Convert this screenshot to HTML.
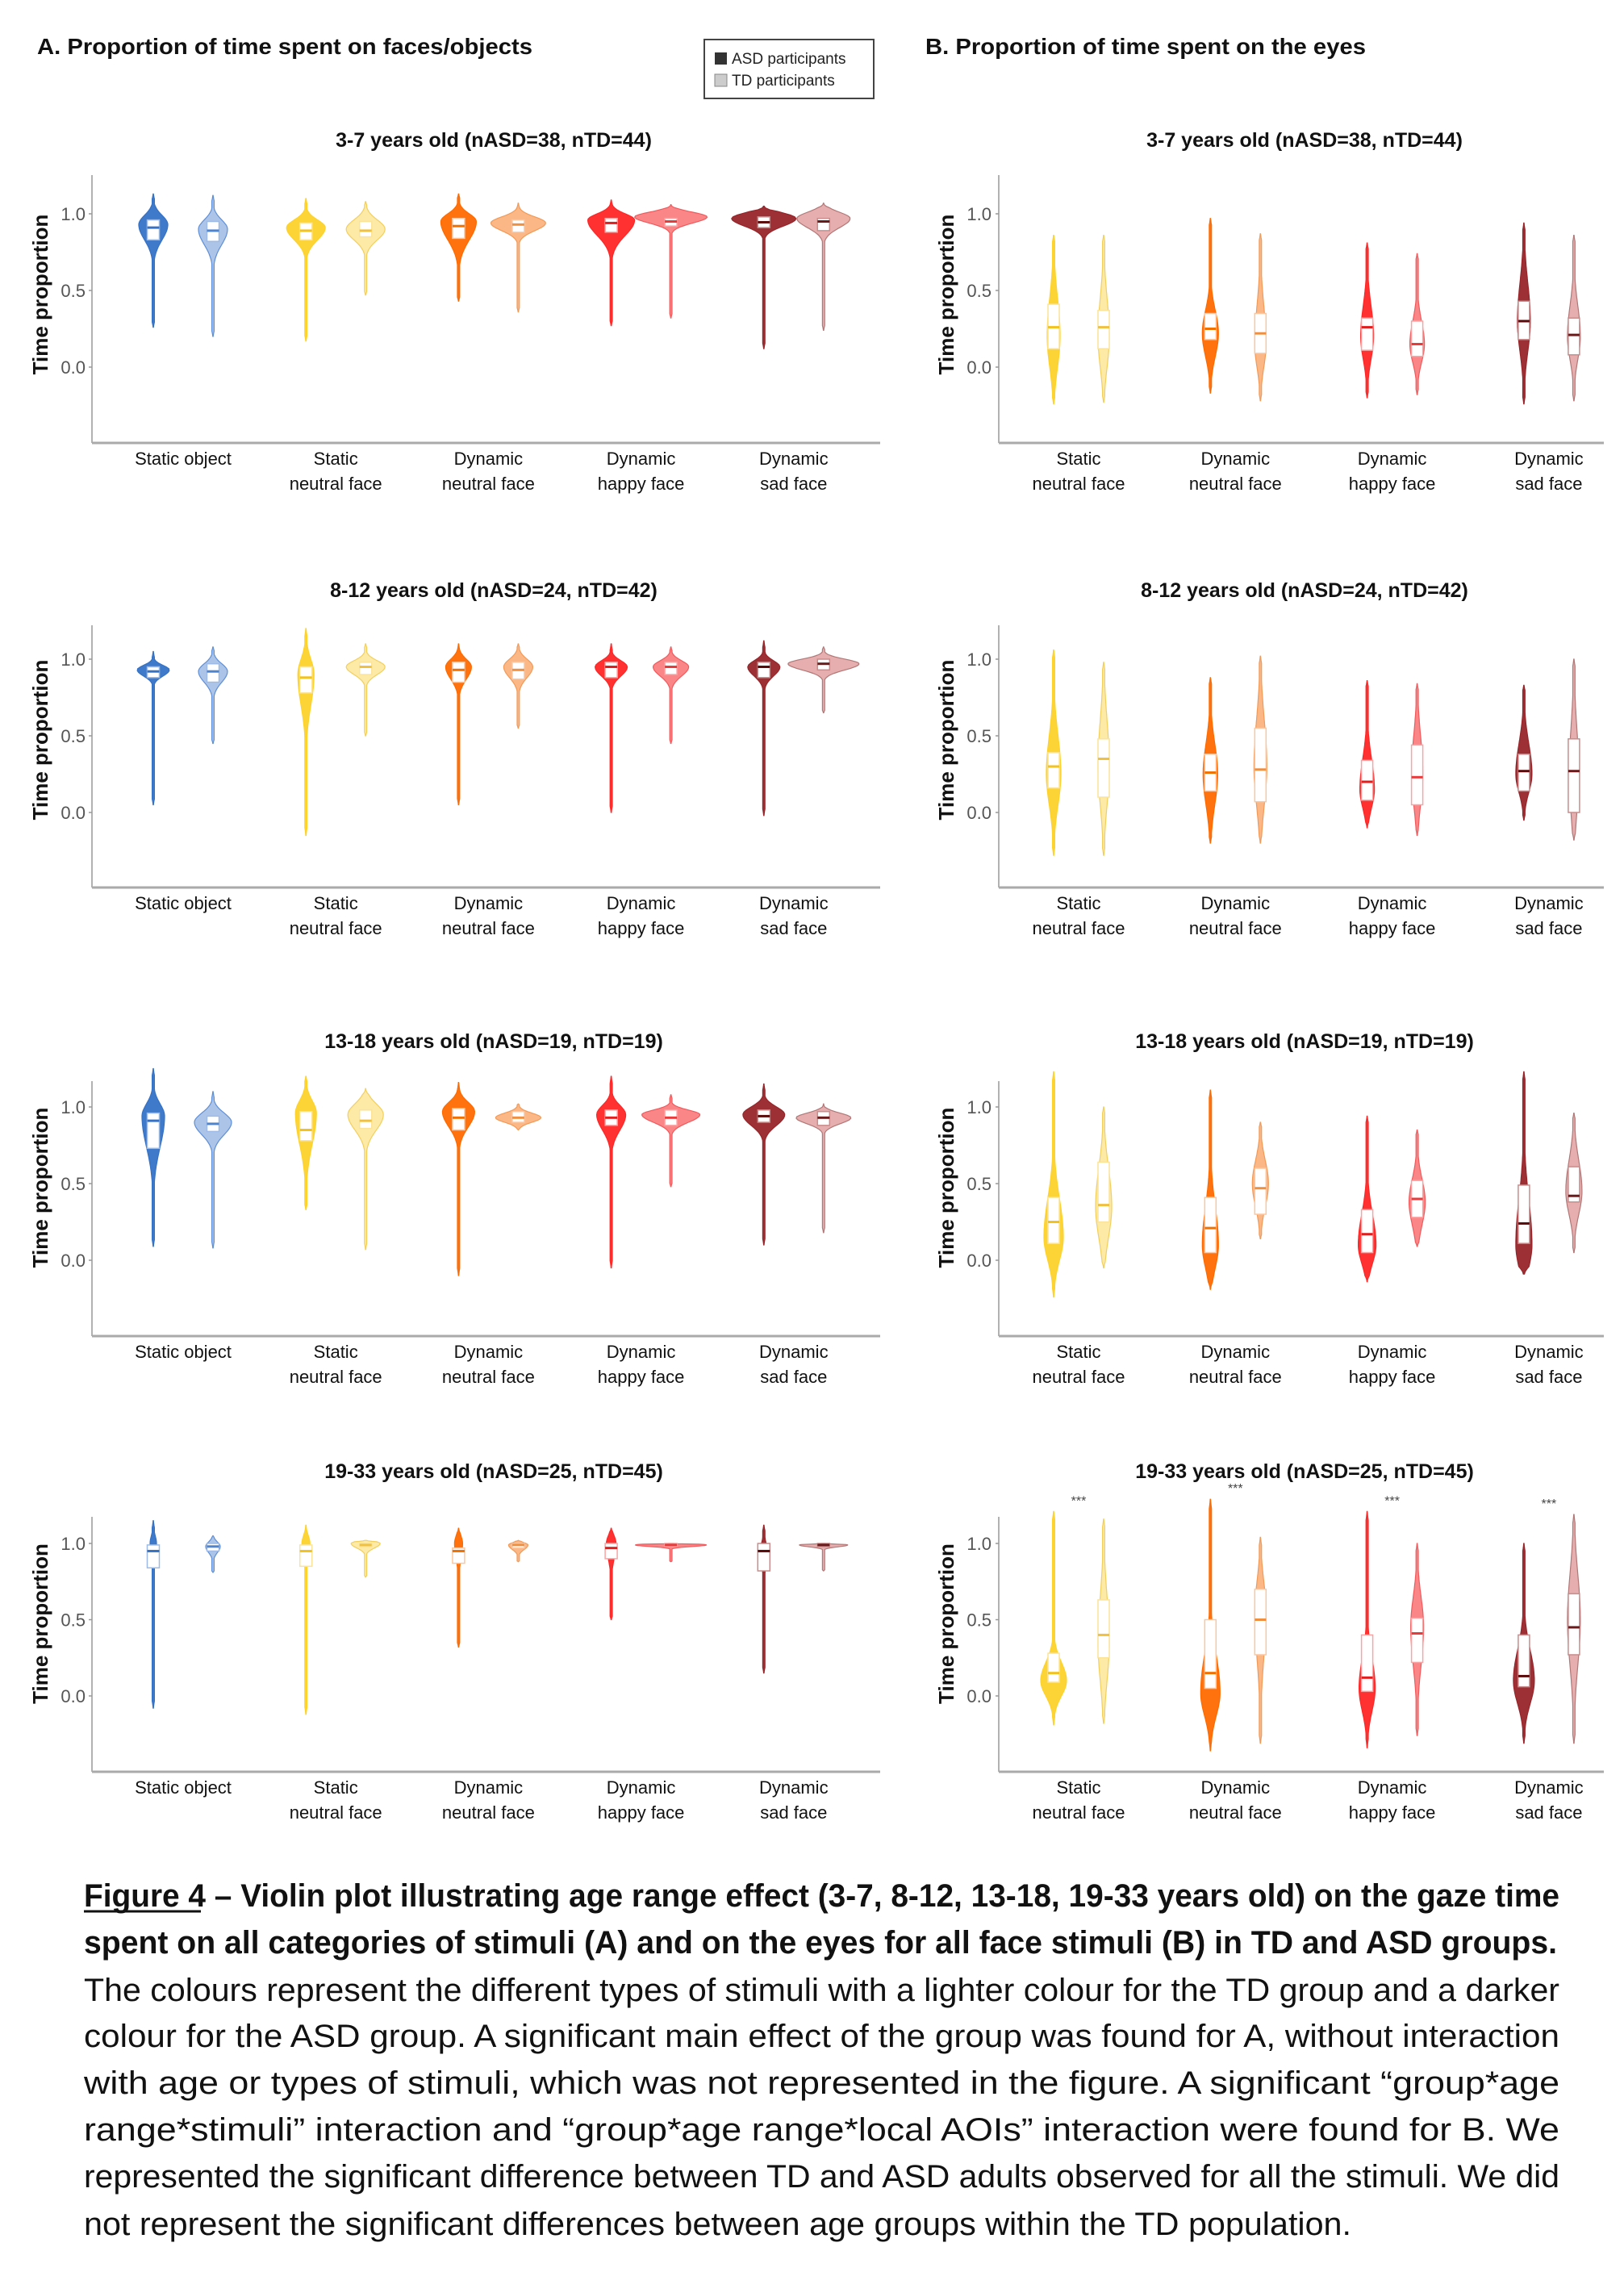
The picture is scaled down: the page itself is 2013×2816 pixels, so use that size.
<!DOCTYPE html>
<html><head><meta charset="utf-8">
<style>
html,body{margin:0;padding:0;background:#fff;}
svg{display:block;font-family:"Liberation Sans",Arial,sans-serif;}
</style></head>
<body>
<svg id="fig" width="2013" height="2816" viewBox="0 0 2013 2816" xmlns="http://www.w3.org/2000/svg">
<rect x="0" y="0" width="2013" height="2816" fill="#fff"/>
<text x="46" y="67" font-size="28" font-weight="bold" fill="#111" textLength="614" lengthAdjust="spacingAndGlyphs">A. Proportion of time spent on faces/objects</text>
<text x="1147" y="67" font-size="28" font-weight="bold" fill="#111" textLength="546" lengthAdjust="spacingAndGlyphs">B. Proportion of time spent on the eyes</text>
<g>
<rect x="873" y="49" width="210" height="73" fill="#fff" stroke="#444" stroke-width="2"/>
<rect x="886" y="65" width="15" height="15" fill="#333"/>
<text x="907" y="79" font-size="19" fill="#222">ASD participants</text>
<rect x="886" y="92" width="15" height="15" fill="#ccc" stroke="#888" stroke-width="1"/>
<text x="907" y="106" font-size="19" fill="#222">TD participants</text>
</g>
<g id="plots"></g>
<g fill="#111" font-size="40">
<text x="104" y="2363" font-weight="bold" textLength="1829" lengthAdjust="spacingAndGlyphs">Figure 4 – Violin plot illustrating age range effect (3-7, 8-12, 13-18, 19-33 years old) on the gaze time</text>
<line x1="104" y1="2369" x2="249" y2="2369" stroke="#111" stroke-width="3"/>
<text x="104" y="2421" font-weight="bold" textLength="1826" lengthAdjust="spacingAndGlyphs">spent on all categories of stimuli (A) and on the eyes for all face stimuli (B) in TD and ASD groups.</text>
<text x="104" y="2480" textLength="1829" lengthAdjust="spacingAndGlyphs">The colours represent the different types of stimuli with a lighter colour for the TD group and a darker</text>
<text x="104" y="2537" textLength="1829" lengthAdjust="spacingAndGlyphs">colour for the ASD group. A significant main effect of the group was found for A, without interaction</text>
<text x="104" y="2595" textLength="1829" lengthAdjust="spacingAndGlyphs">with age or types of stimuli, which was not represented in the figure. A significant “group*age</text>
<text x="104" y="2653" textLength="1829" lengthAdjust="spacingAndGlyphs">range*stimuli” interaction and “group*age range*local AOIs” interaction were found for B. We</text>
<text x="104" y="2711" textLength="1829" lengthAdjust="spacingAndGlyphs">represented the significant difference between TD and ASD adults observed for all the stimuli. We did</text>
<text x="104" y="2770" textLength="1571" lengthAdjust="spacingAndGlyphs">not represent the significant differences between age groups within the TD population.</text>
</g>
</svg>
<script>
// ---- data: each violin = [min, q1, median, q3, max, mode, peakHalfWidthPx, sdUp, sdDown]
const categoriesA = ["Static object", "Static\nneutral face", "Dynamic\nneutral face", "Dynamic\nhappy face", "Dynamic\nsad face"];
const categoriesB = ["Static\nneutral face", "Dynamic\nneutral face", "Dynamic\nhappy face", "Dynamic\nsad face"];
const ageTitles = ["3-7 years old (nASD=38, nTD=44)", "8-12 years old (nASD=24, nTD=42)", "13-18 years old (nASD=19, nTD=19)", "19-33 years old (nASD=25, nTD=45)"];
const yTicks = [0.0, 0.5, 1.0];
const yTickLabels = ["0.0", "0.5", "1.0"];

const A1_asd = [[0.26,0.83,0.91,0.96,1.13,0.93,18,0.06,0.1],[0.17,0.83,0.89,0.94,1.10,0.91,24,0.05,0.08],[0.43,0.84,0.92,0.97,1.13,0.95,22,0.05,0.12],[0.27,0.88,0.94,0.97,1.09,0.96,29,0.04,0.1],[0.12,0.91,0.945,0.98,1.05,0.97,40,0.035,0.05]];
const A1_td  = [[0.20,0.82,0.89,0.95,1.12,0.90,18,0.06,0.1],[0.47,0.85,0.89,0.95,1.08,0.90,24,0.06,0.07],[0.36,0.88,0.93,0.96,1.07,0.94,34,0.04,0.05],[0.32,0.92,0.95,0.97,1.06,0.98,45,0.03,0.04],[0.24,0.89,0.95,0.97,1.07,0.97,33,0.04,0.06]];
const A2_asd = [[0.05,0.88,0.92,0.95,1.05,0.93,20,0.03,0.04],[-0.15,0.78,0.88,0.95,1.20,0.9,10,0.1,0.2],[0.05,0.85,0.93,0.98,1.1,0.95,16,0.05,0.08],[0.0,0.88,0.95,0.98,1.1,0.95,20,0.04,0.06],[-0.02,0.88,0.95,0.98,1.12,0.95,20,0.04,0.06]];
const A2_td  = [[0.45,0.85,0.92,0.97,1.08,0.92,18,0.05,0.07],[0.5,0.9,0.95,0.98,1.1,0.95,24,0.04,0.05],[0.55,0.87,0.93,0.98,1.1,0.95,18,0.05,0.07],[0.45,0.9,0.95,0.98,1.08,0.95,22,0.04,0.06],[0.65,0.93,0.97,1.0,1.08,0.97,44,0.03,0.04]];
const A3_asd = [[0.09,0.73,0.91,0.96,1.25,0.94,14,0.08,0.2],[0.33,0.78,0.85,0.97,1.2,0.96,13,0.08,0.2],[-0.1,0.85,0.93,0.99,1.16,0.97,20,0.06,0.1],[-0.05,0.88,0.93,0.98,1.2,0.95,18,0.06,0.1],[0.1,0.9,0.94,0.98,1.15,0.95,26,0.05,0.07]];
const A3_td  = [[0.08,0.84,0.89,0.94,1.1,0.9,23,0.06,0.08],[0.07,0.86,0.91,0.98,1.12,0.95,22,0.07,0.1],[0.85,0.9,0.93,0.97,1.02,0.93,28,0.03,0.03],[0.48,0.88,0.93,0.98,1.08,0.95,36,0.03,0.05],[0.18,0.88,0.93,0.97,1.02,0.93,34,0.03,0.04]];
const A4_asd = [[-0.08,0.84,0.95,0.99,1.15,1.0,4,0.05,0.1],[-0.12,0.85,0.95,0.99,1.12,1.0,5,0.05,0.1],[0.32,0.87,0.95,0.97,1.1,1.0,5,0.05,0.1],[0.5,0.9,0.97,1.0,1.1,1.0,6,0.05,0.1],[0.15,0.82,0.95,1.0,1.12,0.95,4,0.06,0.1]];
const A4_td  = [[0.81,0.95,0.98,1.0,1.05,0.98,9,0.03,0.04],[0.78,0.98,0.99,1.0,1.02,1.0,18,0.015,0.03],[0.88,0.97,0.99,1.0,1.02,0.99,12,0.015,0.03],[0.88,0.98,0.99,1.0,1.0,0.99,44,0.008,0.01],[0.82,0.98,0.99,1.0,1.0,0.99,30,0.008,0.012]];

const B1_asd = [[-0.24,0.12,0.26,0.41,0.86,0.2,8,0.25,0.2],[-0.17,0.18,0.25,0.35,0.97,0.22,10,0.15,0.15],[-0.2,0.11,0.26,0.32,0.81,0.2,8,0.2,0.15],[-0.24,0.18,0.3,0.43,0.94,0.3,8,0.25,0.2]];
const B1_td  = [[-0.23,0.12,0.26,0.37,0.86,0.2,7,0.25,0.2],[-0.22,0.09,0.22,0.35,0.87,0.15,7,0.25,0.15],[-0.18,0.07,0.15,0.3,0.74,0.15,9,0.15,0.12],[-0.22,0.08,0.21,0.32,0.86,0.2,8,0.2,0.15]];
const B2_asd = [[-0.28,0.16,0.3,0.39,1.06,0.25,9,0.25,0.2],[-0.2,0.14,0.26,0.38,0.88,0.25,9,0.2,0.2],[-0.1,0.08,0.2,0.34,0.86,0.15,9,0.2,0.12],[-0.05,0.14,0.27,0.38,0.83,0.25,10,0.2,0.12]];
const B2_td  = [[-0.28,0.1,0.35,0.48,0.98,0.3,7,0.3,0.25],[-0.2,0.07,0.28,0.55,1.02,0.3,8,0.3,0.25],[-0.15,0.05,0.23,0.44,0.84,0.25,7,0.25,0.2],[-0.18,0.0,0.27,0.48,1.0,0.25,6,0.3,0.25]];
const B3_asd = [[-0.24,0.11,0.25,0.41,1.23,0.15,12,0.25,0.15],[-0.19,0.05,0.21,0.41,1.11,0.1,10,0.25,0.15],[-0.14,0.05,0.17,0.33,0.94,0.1,11,0.2,0.12],[-0.09,0.11,0.24,0.49,1.23,0.1,10,0.3,0.15]];
const B3_td  = [[-0.05,0.25,0.36,0.64,1.0,0.35,10,0.25,0.2],[0.14,0.3,0.47,0.6,0.9,0.5,10,0.15,0.15],[0.09,0.28,0.4,0.52,0.85,0.38,10,0.15,0.15],[0.05,0.38,0.42,0.61,0.96,0.45,10,0.2,0.15]];
const B4_asd = [[-0.19,0.09,0.15,0.28,1.21,0.1,16,0.12,0.1],[-0.36,0.05,0.15,0.5,1.29,0.02,12,0.25,0.15],[-0.34,0.03,0.12,0.4,1.21,0.05,10,0.2,0.15],[-0.31,0.06,0.13,0.4,1.0,0.1,13,0.2,0.15]];
const B4_td  = [[-0.18,0.25,0.4,0.63,1.16,0.35,7,0.3,0.25],[-0.31,0.27,0.5,0.7,1.04,0.55,7,0.2,0.3],[-0.26,0.22,0.41,0.51,1.0,0.45,8,0.2,0.25],[-0.31,0.27,0.45,0.67,1.19,0.5,8,0.3,0.3]];
const starsB4 = ["***", "***", "***", "***"];

// ---- layout / style
const rowsLayout = [
  {top:217, y1:265, y0:455, bot:549, title:182},
  {top:775, y1:817, y0:1007, bot:1100, title:740},
  {top:1340, y1:1372, y0:1562, bot:1656, title:1299},
  {top:1880, y1:1913, y0:2102, bot:2196, title:1832}
];
const panelA = {left:114, right:1091, c0:227, step:189.2, dodge:37, titleX:612, ytitleX:50, tickRight:106, boxW:15, colorIdx:[0,1,2,3,4]};
const panelB = {left:1238, right:1988, c0:1337, step:194.3, dodge:31, titleX:1617, ytitleX:1173, tickRight:1229, boxW:14, colorIdx:[1,2,3,4]};
const fillASD = ['#3572c6','#fdd22a','#ff6a00','#ff2626','#97252a'];
const fillTD  = ['#a9c1e8','#fde9a2','#fbb37e','#fb8082','#e5aaaa'];
const strokeTD= ['#5e8fd6','#f2cf5c','#f29a58','#f05a5c','#b27777'];
const medASD  = ['#3572c6','#f2c21e','#f07000','#e01e1e','#5a0a0a'];
const medTD   = ['#4d84d0','#f0c040','#ef9040','#e83a3a','#6a1a1a'];
const boxStroke=['#9dbbe6','#fbe49a','#fcc7a0','#fba3a3','#c98c8c'];

const NS = 'http://www.w3.org/2000/svg';
const root = document.getElementById('plots');
function mk(tag, attrs, parent){ const e=document.createElementNS(NS,tag); for(const k in attrs) e.setAttribute(k,attrs[k]); (parent||root).appendChild(e); return e; }

function violinPath(cx, v, yS){
  const [lo,q1,med,q3,hi,mode,half,sdU,sdD] = v;
  const n=80, left=[], right=[];
  for(let i=0;i<=n;i++){
    const val = hi - (hi-lo)*i/n;
    const sd = val>mode? sdU : sdD;
    let w = half*Math.exp(-0.5*Math.pow((val-mode)/sd,2));
    w = Math.max(w, 1.4);
    const edge = Math.min(i, n-i)/3; if(edge<1) w*=Math.max(edge,0.15);
    const y=yS(val);
    right.push([cx+w,y]); left.push([cx-w,y]);
  }
  let d='M'+right.map(p=>p[0].toFixed(1)+','+p[1].toFixed(1)).join(' L');
  d+=' L'+left.reverse().map(p=>p[0].toFixed(1)+','+p[1].toFixed(1)).join(' L')+' Z';
  return d;
}

function drawPanel(pn, P, cats, rIdx, asd, td){
  const R = rowsLayout[rIdx];
  const yS = v => R.y0 - (R.y0-R.y1)*v;
  const xS = i => P.c0 + P.step*i;
  const g = mk('g',{});
  
  
  const t = mk('text',{x:P.titleX, y:R.title, 'text-anchor':'middle', 'font-size':25, 'font-weight':'bold', fill:'#111'}, g);
  
  
  t.textContent = ageTitles[rIdx];
  const ya = mk('line',{x1:P.left, y1:R.top, x2:P.left, y2:R.bot, stroke:'#999', 'stroke-width':1.5}, g);
  
  
  const xa = mk('line',{x1:P.left, y1:R.bot, x2:P.right, y2:R.bot, stroke:'#aaa', 'stroke-width':3}, g);
  
  
  yTicks.forEach((tv,k)=>{
    mk('line',{x1:P.left-4, y1:yS(tv), x2:P.left, y2:yS(tv), stroke:'#999', 'stroke-width':1.5}, g);
    const tl = mk('text',{x:P.tickRight, y:yS(tv)+8, 'text-anchor':'end', 'font-size':22, fill:'#555'}, g);
    
    
    tl.textContent = yTickLabels[k];
  });
  const yc = (R.y1+R.y0)/2 - 4;
  const yt = mk('text',{x:P.ytitleX, y:yc, 'text-anchor':'middle', 'font-size':26, 'font-weight':'bold', fill:'#111', transform:'rotate(-90 '+(P.ytitleX+9)+' '+yc+')'}, g);
  
  
  yt.textContent = 'Time proportion';
  cats.forEach((c,i)=>{
    const lines = c.split('\n');
    const lb = mk('text',{x:xS(i), y:R.bot+27, 'text-anchor':'middle', 'font-size':22, fill:'#111'}, g);
    
    
    lines.forEach((ln,j)=>{ const ts=mk('tspan',{x:xS(i), dy: j===0?0:31}, lb); ts.textContent=ln; });
    const ci = P.colorIdx[i];
    [[asd[i], -1, fillASD[ci], fillASD[ci], medASD[ci], 'asd'], [td[i], 1, fillTD[ci], strokeTD[ci], medTD[ci], 'td']].forEach(([v,s,fc,sc,mc,grp])=>{
      const cx = xS(i) + s*P.dodge;
      const vp = mk('path',{d:violinPath(cx,v,yS), fill:fc, stroke:sc, 'stroke-width':1.2, 'fill-opacity':0.95}, g);
      
      
      const bw = P.boxW;
      const bx = mk('rect',{x:cx-bw/2, y:yS(v[3]), width:bw, height:Math.max(2,yS(v[1])-yS(v[3])), fill:'#fff', stroke:boxStroke[ci], 'stroke-width':1.5}, g);
      
      
      const md = mk('line',{x1:cx-bw/2, y1:yS(v[2]), x2:cx+bw/2, y2:yS(v[2]), stroke:mc, 'stroke-width':3}, g);
      
      
    });
  });
  return {g, xS, yS, R};
}

const Arows = [[A1_asd,A1_td],[A2_asd,A2_td],[A3_asd,A3_td],[A4_asd,A4_td]];
const Brows = [[B1_asd,B1_td],[B2_asd,B2_td],[B3_asd,B3_td],[B4_asd,B4_td]];
Arows.forEach((r,k)=>drawPanel('a', panelA, categoriesA, k, r[0], r[1]));
let last;
Brows.forEach((r,k)=>{ last = drawPanel('b', panelB, categoriesB, k, r[0], r[1]); });
starsB4.forEach((s,i)=>{
  const top = Math.max(B4_asd[i][4], B4_td[i][4]);
  const st = mk('text',{x:last.xS(i), y:last.yS(top)-8, 'text-anchor':'middle', 'font-size':16, fill:'#444'}, last.g);
  
  
  st.textContent = s;
});
</script>
</body></html>
